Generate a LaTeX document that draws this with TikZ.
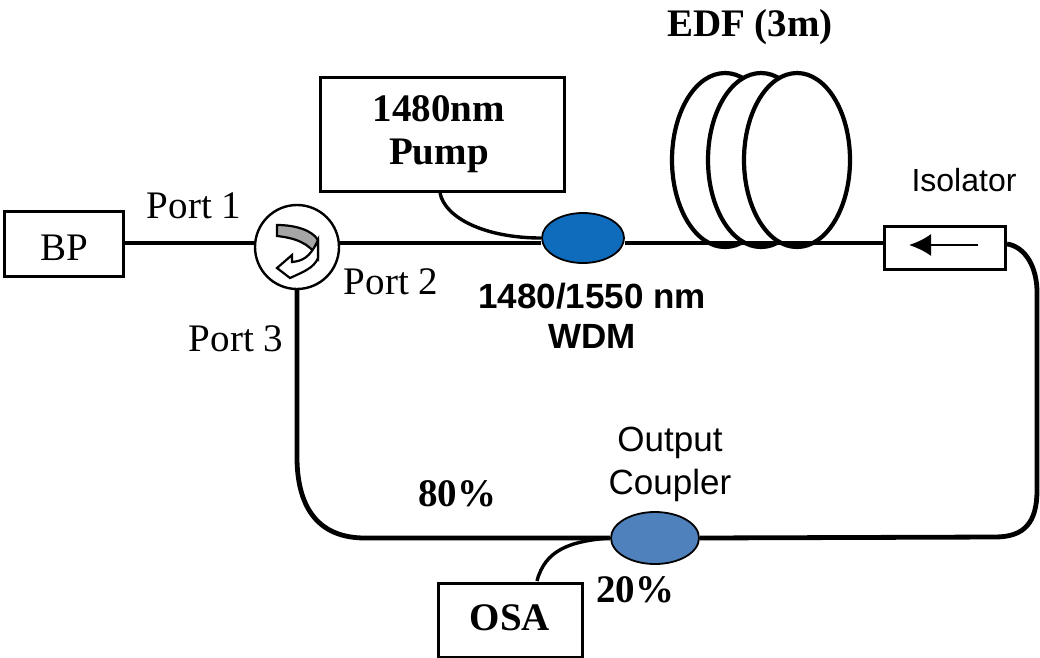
\documentclass[tikz,border=0pt]{standalone}
\usepackage{fontspec}
\setmainfont{Liberation Serif}
\newfontfamily\arialf{Liberation Sans}
\usetikzlibrary{shapes.geometric,arrows.meta}
\tikzset{
  fiber/.style={line width=4.8pt,black},
  thinfiber/.style={line width=3.4pt,black},
  boxn/.style={draw=black,line width=3pt,fill=white,inner sep=0pt,anchor=north west},
  coil/.style={draw=black,line width=4.2pt,fill=white,ellipse,inner sep=0pt,minimum width=106pt,minimum height=174pt},
  wdm/.style={ellipse,draw=black,line width=1.8pt,inner sep=0pt},
  sertxt/.style={font=\fontsize{39}{39}\selectfont,text=black,inner sep=0pt},
  serb/.style={font=\fontsize{39}{43}\selectfont\bfseries,text=black,inner sep=0pt,align=center},
  santxt/.style={font=\arialf\fontsize{35}{40}\selectfont,text=black,inner sep=0pt,align=center},
}
\begin{document}
\begin{tikzpicture}[x=1pt,y=-1pt]
\useasboundingbox (0,0) rectangle (1040,657);
% coils
\node[coil] (c1) at (725,160) {};
\node[coil] (c2) at (761,160) {};
\node[coil] (c3) at (797,160) {};
% nodes
\node[boxn,minimum width=119pt,minimum height=65pt] (bp) at (3,210) {};
\node[boxn,minimum width=244pt,minimum height=114pt] (pump) at (319,76) {};
\node[circle,draw=black,line width=2.4pt,fill=white,minimum size=84pt,inner sep=0pt] (circ) at (297,247) {};
\node[boxn,minimum width=121pt,minimum height=43pt] (iso) at (883,225) {};
\node[boxn,minimum width=144pt,minimum height=74pt] (osa) at (437,582) {};
\node[wdm,fill={rgb,255:red,15;green,108;blue,189},minimum width=82pt,minimum height=50pt] (w) at (583,238) {};
\node[wdm,fill={rgb,255:red,79;green,129;blue,189},minimum width=88pt,minimum height=52pt] (oc) at (655,538) {};
% connectors
\draw[fiber] (bp.east |- 0,243) -- (circ.west |- 0,243);
\draw[fiber] (circ.east |- 0,243) -- (w.west |- 0,243);
\draw[fiber] (w.east |- 0,243) -- (iso.west |- 0,243);
\draw[thinfiber] (pump.south west) ++(121,0) .. controls (445,218) and (485,238) .. (w.west);
\draw[fiber] (iso.east |- 0,244) .. controls (1022,246) and (1036,262) .. (1037,290) -- (1037,490) .. controls (1037,522) and (1025,537) .. (995,537) -- (oc.east);
\draw[fiber] (circ.south) -- (297,460) .. controls (298,510) and (320,538) .. (365,538) -- (oc.west);
\draw[thinfiber] (oc.west) .. controls (570,541) and (545,550) .. (537,581);
% circulator arrow
\draw[draw=black,line width=2.2pt,fill=gray!70] (277,225) .. controls (295,225) and (312,230) .. (318,240) -- (318,258) .. controls (310,243) and (295,238) .. (277,236) -- cycle;
\draw[draw=black,line width=2.2pt,fill=white] (318,258) .. controls (314,268) and (303,272) .. (290,278) -- (277,268) -- (292,255) -- (292,262) .. controls (302,261) and (310,258) .. (318,240) -- cycle;
% isolator arrow
\draw[line width=2.4pt,-{Latex[length=22pt,width=22pt]}] (978,245) -- (909,245);
% labels
\node[sertxt] (bpl) at (64,248) {BP};
\node[serb] (pl) at (439,134) {1480nm\\Pump};
\node[serb] (ol2) at (510,618) {OSA};
\node[serb] (edf) at (750,27) {EDF (3m)};
\node[sertxt] (p1) at (194,206) {Port 1};
\node[sertxt] (p2) at (391,282) {Port 2};
\node[sertxt] (p3) at (236,339) {Port 3};
\node[santxt] (wl) at (592,316) {\textbf{1480/1550 nm}\\\textbf{WDM}};
\node[santxt,font=\arialf\fontsize{32}{32}\selectfont] (il) at (964,180) {Isolator};
\node[santxt,font=\arialf\fontsize{35}{43}\selectfont] (ol) at (670,464) {Output\\Coupler};
\node[serb] (p80) at (457,494) {80\%};
\node[serb] (p20) at (635,590) {20\%};
\end{tikzpicture}
\end{document}
